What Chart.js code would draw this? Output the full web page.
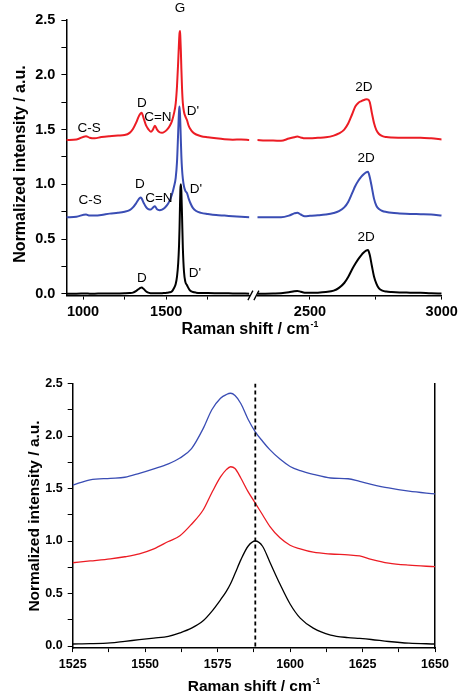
<!DOCTYPE html>
<html>
<head>
<meta charset="utf-8">
<script src="https://cdn.jsdelivr.net/npm/chart.js@4.4.0/dist/chart.umd.min.js"></script>
<style>
  html, body { margin: 0; padding: 0; background: #fff; }
  canvas { display: block; }
</style>
</head>
<body>
<canvas id="overviewChart" width="462" height="350"></canvas>
<canvas id="gBandChart" width="462" height="341"></canvas>
<script>
// ---- overview spectra, low wavenumber segment (900-2000 cm-1) ----
const lowShift = [900, 960, 1018, 1040, 1070, 1110, 1160, 1210, 1250, 1280, 1300, 1320, 1335, 1345, 1352, 1365, 1378, 1392, 1408, 1420, 1432, 1445, 1460, 1475, 1490, 1505, 1520, 1535, 1547, 1557, 1565, 1572, 1577, 1580, 1583, 1585, 1588, 1591, 1595, 1600, 1607, 1615, 1625, 1635, 1645, 1660, 1680, 1710, 1750, 1800, 1850, 1900, 1950, 2000];
const lowRed = [1.405, 1.41, 1.44, 1.425, 1.42, 1.432, 1.44, 1.445, 1.45, 1.47, 1.505, 1.565, 1.62, 1.645, 1.654, 1.60, 1.54, 1.505, 1.48, 1.50, 1.536, 1.50, 1.476, 1.47, 1.48, 1.50, 1.53, 1.58, 1.65, 1.74, 1.90, 2.12, 2.30, 2.38, 2.40, 2.34, 2.22, 2.06, 1.88, 1.74, 1.66, 1.62, 1.585, 1.535, 1.505, 1.475, 1.455, 1.44, 1.43, 1.42, 1.412, 1.408, 1.41, 1.405];
const lowBlue = [0.70, 0.705, 0.725, 0.715, 0.715, 0.72, 0.733, 0.74, 0.75, 0.765, 0.79, 0.83, 0.865, 0.88, 0.872, 0.83, 0.795, 0.775, 0.77, 0.788, 0.80, 0.772, 0.765, 0.77, 0.785, 0.81, 0.85, 0.91, 0.98, 1.06, 1.21, 1.48, 1.67, 1.71, 1.64, 1.55, 1.40, 1.26, 1.14, 1.05, 0.98, 0.94, 0.92, 0.87, 0.83, 0.785, 0.757, 0.74, 0.73, 0.72, 0.715, 0.71, 0.705, 0.70];
const lowBlack = [0.003, 0.003, 0.004, 0.003, 0.003, 0.004, 0.004, 0.005, 0.006, 0.008, 0.012, 0.028, 0.045, 0.055, 0.058, 0.045, 0.025, 0.012, 0.007, 0.006, 0.006, 0.006, 0.006, 0.007, 0.009, 0.011, 0.015, 0.025, 0.055, 0.09, 0.16, 0.28, 0.44, 0.60, 0.82, 0.95, 1.00, 0.94, 0.72, 0.42, 0.20, 0.11, 0.08, 0.05, 0.03, 0.018, 0.012, 0.009, 0.008, 0.007, 0.006, 0.005, 0.004, 0.003];

// ---- overview spectra, high wavenumber segment (2300-3000 cm-1) ----
const highShift = [2300, 2330, 2360, 2390, 2420, 2440, 2452, 2465, 2480, 2500, 2530, 2560, 2590, 2610, 2630, 2645, 2660, 2672, 2684, 2695, 2705, 2713, 2720, 2727, 2735, 2743, 2752, 2762, 2775, 2790, 2810, 2840, 2880, 2920, 2960, 3000];
const highRed = [1.405, 1.40, 1.40, 1.398, 1.418, 1.43, 1.436, 1.428, 1.42, 1.42, 1.425, 1.43, 1.445, 1.465, 1.50, 1.555, 1.64, 1.71, 1.745, 1.76, 1.77, 1.776, 1.775, 1.75, 1.65, 1.56, 1.495, 1.46, 1.44, 1.432, 1.428, 1.426, 1.425, 1.426, 1.42, 1.41];
const highBlue = [0.70, 0.70, 0.70, 0.70, 0.715, 0.735, 0.742, 0.725, 0.71, 0.713, 0.718, 0.725, 0.738, 0.755, 0.79, 0.84, 0.92, 0.985, 1.035, 1.07, 1.095, 1.11, 1.115, 1.065, 0.97, 0.87, 0.805, 0.775, 0.757, 0.748, 0.74, 0.735, 0.73, 0.728, 0.725, 0.715];
const highBlack = [0.003, 0.003, 0.004, 0.006, 0.015, 0.025, 0.028, 0.02, 0.012, 0.01, 0.012, 0.018, 0.03, 0.055, 0.10, 0.155, 0.225, 0.275, 0.32, 0.355, 0.38, 0.395, 0.40, 0.355, 0.255, 0.16, 0.095, 0.05, 0.03, 0.022, 0.018, 0.014, 0.012, 0.01, 0.006, 0.004];

// ---- G band close-up ----
const gShift = [1525, 1531, 1538, 1543, 1548, 1553, 1558, 1562, 1566, 1570, 1573, 1576, 1578, 1579.5, 1581, 1583, 1585.5, 1588, 1590.5, 1593, 1596.5, 1600, 1603.5, 1608, 1614, 1620, 1624, 1628, 1634, 1641, 1650];
const gBlue = [1.533, 1.583, 1.597, 1.607, 1.645, 1.688, 1.735, 1.79, 1.88, 2.07, 2.25, 2.36, 2.395, 2.407, 2.385, 2.31, 2.16, 2.04, 1.95, 1.87, 1.78, 1.71, 1.67, 1.635, 1.60, 1.593, 1.567, 1.54, 1.505, 1.475, 1.448];
const gRed = [0.793, 0.81, 0.83, 0.85, 0.878, 0.925, 0.995, 1.05, 1.16, 1.295, 1.46, 1.61, 1.68, 1.707, 1.69, 1.60, 1.47, 1.36, 1.25, 1.14, 1.03, 0.96, 0.925, 0.893, 0.876, 0.868, 0.858, 0.826, 0.79, 0.77, 0.755];
const gBlack = [0.019, 0.022, 0.03, 0.045, 0.06, 0.075, 0.092, 0.125, 0.17, 0.24, 0.33, 0.44, 0.52, 0.595, 0.69, 0.82, 0.95, 1.0, 0.95, 0.80, 0.59, 0.40, 0.265, 0.17, 0.104, 0.08, 0.072, 0.062, 0.043, 0.027, 0.019];
const gPeakShift = 1588;

// ---- ticks ----
const intensityTicks = [0, 0.25, 0.5, 0.75, 1, 1.25, 1.5, 1.75, 2, 2.25, 2.5];
const lowShiftTicks = [1000, 1250, 1500, 1750];
const highShiftTicks = [2500, 2750, 3000];
const gShiftTicks = [1525, 1537.5, 1550, 1562.5, 1575, 1587.5, 1600, 1612.5, 1625, 1637.5, 1650];

// ---- band labels on the overview ----
const bandText = ['G', 'C-S', 'D', 'C=N', "D'", '2D', 'C-S', 'D', 'C=N', "D'", '2D', 'D', "D'", '2D'];
const bandShift = [1583, 1036, 1354, 1450, 1661, 2705, 1042, 1342, 1456, 1679, 2713, 1354, 1673, 2713];
const bandIntensity = [2.61, 1.515, 1.743, 1.615, 1.67, 1.889, 0.858, 1.004, 0.876, 0.958, 1.241, 0.146, 0.19, 0.52];
const bandAxis = ['xLow', 'xLow', 'xLow', 'xLow', 'xLow', 'xHigh', 'xLow', 'xLow', 'xLow', 'xLow', 'xHigh', 'xLow', 'xLow', 'xHigh'];

const FONT = '"Liberation Sans", Arial, sans-serif';
const RED = '#ec1c24';
const BLUE = '#3a4db4';
const BLACK = '#000000';
const X_TITLE = 'Raman shift / cm';
const X_TITLE_SUP = '-1';
const Y_TITLE = 'Normalized intensity / a.u.';

const toPoints = (xs, ys) => xs.map((x, i) => ({ x: x, y: ys[i] }));
const setTicks = list => scale => { scale.ticks = list.map(v => ({ value: v })); };

function titlesPlugin(cfg) {
    return {
        id: 'axisTitles',
        afterDraw(chart) {
            const ctx = chart.ctx;
            const supSize = cfg.size * 0.55;
            ctx.save();
            ctx.fillStyle = '#000';
            ctx.textBaseline = 'alphabetic';
            ctx.font = `bold ${cfg.size}px ${FONT}`;
            const mainW = ctx.measureText(X_TITLE).width;
            ctx.font = `bold ${supSize}px ${FONT}`;
            const supW = ctx.measureText(X_TITLE_SUP).width;
            const x0 = cfg.xCenter - (mainW + supW + 1) / 2;
            ctx.textAlign = 'left';
            ctx.font = `bold ${cfg.size}px ${FONT}`;
            ctx.fillText(X_TITLE, x0, cfg.xBaseline);
            ctx.font = `bold ${supSize}px ${FONT}`;
            ctx.fillText(X_TITLE_SUP, x0 + mainW + 1, cfg.xBaseline - cfg.size * 0.45);

            ctx.font = `bold ${cfg.size}px ${FONT}`;
            ctx.textAlign = 'center';
            ctx.translate(cfg.yBaseline, cfg.yCenter);
            ctx.rotate(-Math.PI / 2);
            ctx.fillText(Y_TITLE, 0, 0);
            ctx.restore();
        }
    };
}

const bandLabels = {
    id: 'bandLabels',
    afterDatasetsDraw(chart) {
        const ctx = chart.ctx;
        const y = chart.scales.y;
        ctx.save();
        ctx.fillStyle = '#000';
        ctx.font = `13.5px ${FONT}`;
        ctx.textAlign = 'center';
        ctx.textBaseline = 'middle';
        bandText.forEach((t, i) => {
            const xs = chart.scales[bandAxis[i]];
            ctx.fillText(t, xs.getPixelForValue(bandShift[i]), y.getPixelForValue(bandIntensity[i]));
        });
        ctx.restore();
    }
};

const axisBreak = {
    id: 'axisBreak',
    afterDraw(chart) {
        const gap = chart.scales.xGap;
        const yb = chart.chartArea.bottom;
        const ctx = chart.ctx;
        ctx.save();
        ctx.strokeStyle = '#000';
        ctx.lineWidth = 1.3;
        [gap.left - 1.5, gap.left + 4.5].forEach(x0 => {
            ctx.beginPath();
            ctx.moveTo(x0, yb + 4.5);
            ctx.lineTo(x0 + 5, yb - 5);
            ctx.stroke();
        });
        ctx.restore();
    }
};

function shiftAxis(min, max, weight, ticks, fontSize) {
    return {
        type: 'linear',
        position: 'bottom',
        stack: 'shift',
        stackWeight: weight,
        min: min,
        max: max,
        afterBuildTicks: setTicks(ticks),
        afterFit: s => { s.height = 54.4; },
        ticks: {
            autoSkip: false,
            maxRotation: 0,
            padding: 4,
            color: '#000',
            font: { family: FONT, size: fontSize, weight: 'bold' },
            callback: v => (v % 500 === 0 ? String(v) : '')
        },
        grid: { drawOnChartArea: false, tickLength: 4, color: '#000', lineWidth: 1 },
        border: { color: '#000', width: 1.5 }
    };
}

const lineStyle = (color, width) => ({
    borderColor: color,
    borderWidth: width,
    pointRadius: 0,
    fill: false,
    cubicInterpolationMode: 'monotone'
});

new Chart(document.getElementById('overviewChart'), {
    type: 'line',
    data: {
        datasets: [
            { data: toPoints(lowShift, lowBlack), xAxisID: 'xLow', ...lineStyle(BLACK, 2) },
            { data: toPoints(highShift, highBlack), xAxisID: 'xHigh', ...lineStyle(BLACK, 2) },
            { data: toPoints(lowShift, lowBlue), xAxisID: 'xLow', ...lineStyle(BLUE, 2) },
            { data: toPoints(highShift, highBlue), xAxisID: 'xHigh', ...lineStyle(BLUE, 2) },
            { data: toPoints(lowShift, lowRed), xAxisID: 'xLow', ...lineStyle(RED, 2) },
            { data: toPoints(highShift, highRed), xAxisID: 'xHigh', ...lineStyle(RED, 2) }
        ]
    },
    options: {
        responsive: false,
        animation: false,
        devicePixelRatio: 1,
        layout: { padding: { left: 0, right: 20.3, top: 20, bottom: 0 } },
        plugins: { legend: { display: false }, tooltip: { enabled: false } },
        scales: {
            xLow: shiftAxis(900, 2000, 183.0, lowShiftTicks, 14.5),
            xGap: {
                type: 'linear', position: 'bottom', stack: 'shift', stackWeight: 7.9,
                min: 0, max: 1,
                afterFit: s => { s.height = 54.4; },
                ticks: { display: false },
                grid: { display: false },
                border: { display: false }
            },
            xHigh: shiftAxis(2300, 3000, 184.4, highShiftTicks, 14.5),
            y: {
                min: -0.015,
                max: 2.5,
                afterBuildTicks: setTicks(intensityTicks),
                afterFit: s => { s.width = 66.4; },
                ticks: {
                    padding: 6,
                    color: '#000',
                    font: { family: FONT, size: 14.5, weight: 'bold' },
                    callback: v => (Math.abs(v * 2 - Math.round(v * 2)) < 1e-6 ? v.toFixed(1) : '')
                },
                grid: { drawOnChartArea: false, tickLength: 5, color: '#000' },
                border: { color: '#000', width: 1.5 }
            }
        }
    },
    plugins: [bandLabels, axisBreak, titlesPlugin({ size: 16, xCenter: 250, xBaseline: 334, yBaseline: 25, yCenter: 164 })]
});

new Chart(document.getElementById('gBandChart'), {
    type: 'line',
    data: {
        datasets: [
            {
                data: [{ x: gPeakShift, y: 2.5 }, { x: gPeakShift, y: -0.02 }],
                borderColor: '#000', borderWidth: 1.8, borderDash: [4, 3], pointRadius: 0, fill: false
            },
            { data: toPoints(gShift, gBlack), ...lineStyle(BLACK, 1.3) },
            { data: toPoints(gShift, gRed), ...lineStyle(RED, 1.3) },
            { data: toPoints(gShift, gBlue), ...lineStyle(BLUE, 1.3) }
        ]
    },
    options: {
        responsive: false,
        animation: false,
        devicePixelRatio: 1,
        layout: { padding: { left: 0, right: 27, top: 33.5, bottom: 0 } },
        plugins: { legend: { display: false }, tooltip: { enabled: false } },
        scales: {
            x: {
                type: 'linear',
                min: 1525,
                max: 1650,
                afterBuildTicks: setTicks(gShiftTicks),
                afterFit: s => { s.height = 42.9; },
                ticks: {
                    autoSkip: false,
                    maxRotation: 0,
                    padding: 4.5,
                    color: '#000',
                    font: { family: FONT, size: 12.5, weight: 'bold' },
                    callback: v => (v % 25 === 0 ? String(v) : '')
                },
                grid: { drawOnChartArea: false, tickLength: 4, color: '#000' },
                border: { color: '#000', width: 1.5 }
            },
            y: {
                min: -0.02,
                max: 2.5,
                afterBuildTicks: setTicks(intensityTicks),
                afterFit: s => { s.width = 72.7; },
                ticks: {
                    padding: 5,
                    color: '#000',
                    font: { family: FONT, size: 12.5, weight: 'bold' },
                    callback: v => (Math.abs(v * 2 - Math.round(v * 2)) < 1e-6 ? v.toFixed(1) : '')
                },
                grid: { drawOnChartArea: false, tickLength: 5, color: '#000' },
                border: { color: '#000', width: 1.5 }
            },
            yFrame: {
                position: 'right',
                min: -0.02,
                max: 2.5,
                afterFit: s => { s.width = 0; },
                ticks: { display: false },
                grid: { drawOnChartArea: false, drawTicks: false },
                border: { color: '#000', width: 1.5 }
            }
        }
    },
    plugins: [titlesPlugin({ size: 15.5, xCenter: 254, xBaseline: 340.5, yBaseline: 39, yCenter: 166 })]
});
</script>
</body>
</html>
